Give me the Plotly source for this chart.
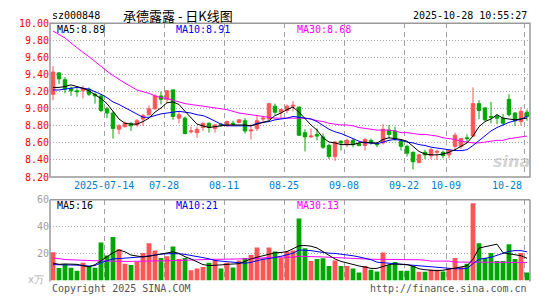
import plotly.graph_objects as go

# ---------------- data ----------------
jul = [1, 2, 3, 4, 7, 8, 9, 10, 11, 14, 15, 16, 17, 18, 21, 22, 23, 24, 25, 28, 29, 30, 31]
aug = [1, 4, 5, 6, 7, 8, 11, 12, 13, 14, 15, 18, 19, 20, 21, 22, 25, 26, 27, 28, 29]
sep = [1, 2, 3, 4, 5, 8, 9, 10, 11, 12, 15, 16, 17, 18, 19, 22, 23, 24, 25, 26, 29, 30]
octo = [9, 10, 13, 14, 15, 16, 17, 20, 21, 22, 23, 24, 27, 28]
dates = ([f"2025-07-{d:02d}" for d in jul] + [f"2025-08-{d:02d}" for d in aug] +
         [f"2025-09-{d:02d}" for d in sep] + [f"2025-10-{d:02d}" for d in octo])

open_ = [9.17, 9.42, 9.34, 9.24, 9.21, 9.21, 9.23, 9.17, 9.15, 9.00,
         8.95, 8.76, 8.79, 8.83, 8.81, 8.88, 8.93, 9.00, 9.15, 9.11,
         9.22, 8.89, 8.89, 8.73, 8.72, 8.78, 8.83, 8.77, 8.82, 8.81,
         8.83, 8.84, 8.86, 8.74, 8.77, 8.88, 8.88, 9.03, 8.96, 8.98,
         9.03, 9.02, 8.72, 8.67, 8.70, 8.67, 8.57, 8.44, 8.62, 8.58,
         8.63, 8.59, 8.57, 8.63, 8.59, 8.60, 8.75, 8.74, 8.62, 8.56,
         8.49, 8.37, 8.49, 8.45, 8.49, 8.49, 8.46, 8.56, 8.56, 8.66,
         8.68, 9.06, 9.01, 8.91, 8.91, 8.89, 9.11, 8.95, 8.85, 8.96]
high = [9.50, 9.43, 9.37, 9.26, 9.24, 9.27, 9.25, 9.19, 9.17, 9.02,
        8.97, 8.82, 8.85, 8.84, 8.88, 8.94, 9.04, 9.17, 9.20, 9.22,
        9.23, 8.97, 8.91, 8.79, 8.79, 8.84, 8.84, 8.82, 8.83, 8.86,
        8.86, 8.88, 8.89, 8.82, 8.93, 8.91, 9.07, 9.06, 9.00, 9.05,
        9.09, 9.02, 8.76, 8.77, 8.77, 8.71, 8.59, 8.62, 8.63, 8.65,
        8.65, 8.61, 8.66, 8.65, 8.61, 8.82, 8.81, 8.79, 8.64, 8.58,
        8.50, 8.47, 8.52, 8.54, 8.52, 8.51, 8.52, 8.72, 8.66, 8.70,
        9.25, 9.10, 9.02, 9.08, 8.94, 8.94, 9.17, 8.96, 9.02, 8.99]
low = [9.10, 9.29, 9.18, 9.15, 9.14, 9.12, 9.15, 9.06, 8.96, 8.89,
       8.65, 8.70, 8.78, 8.74, 8.79, 8.80, 8.92, 8.99, 9.05, 9.07,
       8.87, 8.83, 8.70, 8.71, 8.66, 8.74, 8.72, 8.72, 8.79, 8.79,
       8.80, 8.83, 8.71, 8.64, 8.74, 8.83, 8.87, 8.93, 8.89, 8.95,
       8.97, 8.68, 8.50, 8.66, 8.63, 8.53, 8.41, 8.39, 8.51, 8.55,
       8.55, 8.56, 8.51, 8.58, 8.55, 8.58, 8.65, 8.62, 8.51, 8.44,
       8.29, 8.36, 8.41, 8.41, 8.40, 8.42, 8.42, 8.52, 8.53, 8.60,
       8.67, 8.88, 8.86, 8.83, 8.82, 8.80, 8.91, 8.80, 8.80, 8.86]
close = [9.43, 9.35, 9.23, 9.21, 9.20, 9.24, 9.17, 9.15, 8.98, 8.95,
         8.77, 8.80, 8.83, 8.80, 8.86, 8.92, 9.00, 9.15, 9.11, 9.21,
         8.91, 8.93, 8.71, 8.74, 8.76, 8.83, 8.78, 8.81, 8.81, 8.85,
         8.82, 8.87, 8.74, 8.75, 8.86, 8.89, 9.06, 8.96, 8.99, 9.03,
         9.04, 8.69, 8.67, 8.68, 8.68, 8.55, 8.44, 8.61, 8.60, 8.63,
         8.58, 8.57, 8.64, 8.60, 8.58, 8.76, 8.70, 8.65, 8.56, 8.48,
         8.38, 8.46, 8.46, 8.52, 8.50, 8.45, 8.51, 8.69, 8.65, 8.65,
         9.06, 8.98, 8.87, 8.90, 8.89, 8.83, 8.93, 8.86, 8.97, 8.91]

ma5 = [9.25, 9.25, 9.26, 9.28, 9.26, 9.24, 9.21, 9.17, 9.12, 9.06,
       8.97, 8.88, 8.83, 8.82, 8.82, 8.85, 8.89, 8.96, 9.01, 9.07,
       9.08, 9.05, 8.97, 8.89, 8.82, 8.80, 8.78, 8.79, 8.80, 8.81,
       8.81, 8.81, 8.81, 8.80, 8.82, 8.84, 8.86, 8.92, 8.95, 8.99,
       9.02, 8.96, 8.88, 8.81, 8.75, 8.66, 8.61, 8.60, 8.58, 8.58,
       8.58, 8.60, 8.61, 8.60, 8.60, 8.64, 8.66, 8.65, 8.64, 8.62,
       8.56, 8.50, 8.47, 8.46, 8.46, 8.47, 8.49, 8.52, 8.56, 8.60,
       8.68, 8.79, 8.85, 8.88, 8.93, 8.89, 8.88, 8.87, 8.88, 8.89]
ma10 = [9.22, 9.22, 9.23, 9.24, 9.25, 9.24, 9.23, 9.20, 9.17, 9.13,
        9.08, 9.05, 9.01, 8.97, 8.93, 8.90, 8.90, 8.92, 8.94, 8.95,
        8.96, 8.97, 8.96, 8.95, 8.93, 8.92, 8.89, 8.85, 8.82, 8.80,
        8.80, 8.80, 8.80, 8.80, 8.83, 8.84, 8.85, 8.87, 8.88, 8.89,
        8.91, 8.90, 8.89, 8.88, 8.85, 8.80, 8.76, 8.73, 8.71, 8.68,
        8.65, 8.62, 8.60, 8.60, 8.59, 8.61, 8.63, 8.64, 8.63, 8.61,
        8.60, 8.58, 8.57, 8.55, 8.54, 8.53, 8.52, 8.51, 8.51, 8.52,
        8.57, 8.63, 8.69, 8.74, 8.78, 8.81, 8.84, 8.86, 8.88, 8.91]
ma30 = [9.91, 9.87, 9.83, 9.77, 9.71, 9.66, 9.61, 9.55, 9.49, 9.44,
        9.39, 9.34, 9.30, 9.26, 9.22, 9.20, 9.18, 9.15, 9.13, 9.12,
        9.10, 9.08, 9.06, 9.05, 9.04, 9.03, 9.02, 9.01, 9.00, 8.99,
        8.97, 8.95, 8.94, 8.93, 8.92, 8.91, 8.90, 8.89, 8.89, 8.89,
        8.89, 8.89, 8.89, 8.88, 8.86, 8.85, 8.83, 8.82, 8.81, 8.81,
        8.80, 8.78, 8.77, 8.76, 8.75, 8.75, 8.75, 8.74, 8.72, 8.72,
        8.71, 8.70, 8.70, 8.69, 8.68, 8.66, 8.65, 8.64, 8.62, 8.61,
        8.60, 8.60, 8.61, 8.62, 8.63, 8.63, 8.65, 8.66, 8.67, 8.68]

volume = [21, 9.3, 12, 9.5, 7.2, 13.2, 11, 9.5, 28.3, 18.5,
          32.4, 23.3, 12.5, 11.5, 13.9, 20.4, 27.6, 22.3, 16.8, 18,
          25.2, 16, 16.8, 7.7, 8.9, 10.1, 13.2, 15.1, 8.9, 13.2,
          9.6, 14.9, 16.8, 18.9, 24.5, 16.3, 24.5, 21.6, 16.8, 21.6,
          22.3, 46, 24, 14.4, 16, 16.5, 10.8, 14.9, 10.8, 10.8,
          8.9, 6, 10.8, 8, 6.7, 20.9, 11.5, 13.7, 7.2, 7.2,
          10.8, 6.5, 6.5, 7.9, 7.9, 6.7, 8.9, 16.8, 10.1, 12.5,
          57.5, 27.6, 16.8, 20.4, 14.4, 14.4, 26.9, 16, 20.4, 6]
vma5 = [13, 12, 12.3, 12.3, 12, 10.9, 10.2, 11.8, 14.7, 17.5,
        20.6, 22.7, 21.3, 18.9, 18, 17.5, 18, 18.9, 19.9, 20.6,
        21.3, 20.1, 17.7, 16, 13.8, 11.8, 11.1, 11.1, 11.6, 12,
        12.3, 12.5, 14.2, 16.1, 17.3, 18.4, 19.6, 20.6, 20.8, 21.5,
        23.6, 25.8, 26, 25.5, 24.2, 21.5, 18.5, 16, 14.2, 13,
        11.8, 10.8, 10, 9, 9, 10.6, 11.8, 12.3, 12.3, 11.8,
        10.6, 8.7, 8, 7.6, 7.3, 7.6, 8.5, 9.5, 9.9, 10.9,
        15.8, 24.1, 25.1, 26, 27, 20.6, 19.9, 19.1, 18.4, 16.5]
vma10 = [11.8, 11.8, 11.8, 11.8, 11.6, 11.3, 10.6, 11.1, 13.2, 14.9,
         16.1, 16.3, 16.5, 16.8, 17.3, 17.7, 18.4, 19.1, 19.6, 19.9,
         20.1, 19.9, 19.4, 18.7, 18.2, 17, 16.1, 14.9, 14.4, 13.9,
         13.5, 13, 12.8, 13.5, 14.7, 15.8, 16.3, 17, 18, 19.1,
         20.3, 22.7, 22.7, 22.2, 21.5, 20.8, 20.3, 20.1, 19.6, 19.1,
         18.4, 17.5, 16.5, 15.5, 13.6, 13.2, 12.8, 12.5, 12, 11.5,
         11, 10.6, 10.2, 9.9, 9.5, 9.2, 8.9, 8.7, 8.7, 8.9,
         12.5, 15.8, 16.5, 17.3, 18.7, 20.3, 21.7, 22.2, 22.2, 21.3]
vma30 = [16.8, 16.1, 15.6, 15.4, 15.4, 15.4, 14.9, 14.7, 14.5, 14.4,
         14.3, 14.2, 14.2, 14.2, 14.2, 14.2, 14.3, 14.4, 14.5, 14.7,
         14.8, 15, 15.2, 15.4, 15.6, 15.8, 15.8, 15.8, 15.8, 15.8,
         15.8, 15.8, 15.8, 15.8, 16.3, 16.8, 17.3, 17.3, 17.3, 17.3,
         17.3, 18, 18, 18, 18, 17.5, 17.3, 17, 16.8, 16.5,
         16.3, 16.1, 16, 15.8, 15.8, 15.8, 15.8, 15.8, 15.8, 15.8,
         15.8, 15.4, 15.1, 14.4, 14.4, 14.4, 14.4, 13.7, 13.7, 13.7,
         13.5, 13.5, 13.5, 13.5, 13.5, 13.5, 13.5, 13.5, 13.5, 13.4]

tick_dates = ["2025-07-14", "2025-07-28", "2025-08-11", "2025-08-25",
              "2025-09-08", "2025-09-22", "2025-10-09", "2025-10-28"]
tick_text = ["2025-07-14", "07-28", "08-11", "08-25", "09-08", "09-22", "10-09", "10-28"]
price_ticks = [8.2, 8.4, 8.6, 8.8, 9.0, 9.2, 9.4, 9.6, 9.8, 10.0]
vol_ticks = [20, 40, 60]
vol_tick_text = ["20", "40", "60"]

# ---------------- styling ----------------
W, H = 545, 300
RED, GREEN = "#FF5555", "#00A600"
MONO = "DejaVu Sans Mono"
X0, X1 = 50, 530            # plot left/right (px)
P_TOP, P_BOT = 19, 178      # price panel
V_TOP, V_BOT = 201.5, 285   # volume panel


def px(xp):
    return xp / W


def py(yp):
    return (H - yp) / H


x = list(range(len(dates)))
grid_x = [dates.index(d) - 0.5 for d in tick_dates]
bar_colors = [RED if c > o else GREEN for o, c in zip(open_, close)]

fig = go.Figure()
fig.add_trace(go.Candlestick(
    x=x, open=open_, high=high, low=low, close=close,
    increasing=dict(line=dict(color=RED, width=1), fillcolor=RED),
    decreasing=dict(line=dict(color=GREEN, width=1), fillcolor=GREEN),
    whiskerwidth=0, hoverinfo="skip", xaxis="x", yaxis="y"))
for ys, col in [(ma30, "#FF00FF"), (ma10, "#0000FF"), (ma5, "#000000")]:
    fig.add_trace(go.Scatter(x=x, y=ys, mode="lines", line=dict(color=col, width=1),
                             hoverinfo="skip", xaxis="x", yaxis="y"))

fig.add_trace(go.Bar(x=x, y=volume, marker=dict(color=bar_colors, line=dict(width=0)),
                     width=0.8, hoverinfo="skip", xaxis="x2", yaxis="y2"))
for ys, col in [(vma30, "#FF00FF"), (vma10, "#0000FF"), (vma5, "#000000")]:
    fig.add_trace(go.Scatter(x=x, y=ys, mode="lines", line=dict(color=col, width=1),
                             hoverinfo="skip", xaxis="x2", yaxis="y2"))

xcommon = dict(range=[-0.5, len(dates) - 0.5], domain=[px(X0), px(X1)],
               tickvals=grid_x, showticklabels=False, ticks="",
               showgrid=True, gridcolor="#A0A0A0", griddash="5px,4px", gridwidth=1,
               zeroline=False, showline=False, fixedrange=True)

fig.update_layout(
    width=W, height=H, margin=dict(l=0, r=0, t=0, b=0),
    paper_bgcolor="white", plot_bgcolor="white", showlegend=False,
    boxgap=0.18,
    xaxis=dict(**xcommon, anchor="y", rangeslider=dict(visible=False)),
    xaxis2=dict(**xcommon, anchor="y2"),
    yaxis=dict(domain=[py(P_BOT), py(P_TOP)], range=[8.2, 10.0],
               tickvals=price_ticks, tickformat=".2f", ticks="",
               tickfont=dict(family=MONO, size=10, color="#FF0000"),
               showgrid=True, gridcolor="#A8A8A8", griddash="1px,2px",
               zeroline=False, showline=False, fixedrange=True),
    yaxis2=dict(domain=[py(V_BOT), py(V_TOP)], range=[0, 60],
                tickvals=vol_ticks, ticktext=vol_tick_text, ticks="",
                tickfont=dict(family=MONO, size=10, color="#A0A0A0"),
                showgrid=True, gridcolor="#A8A8A8", griddash="1px,2px",
                zeroline=False, showline=False, fixedrange=True),
)

# borders
bc = "#999999"
shapes = [
    dict(type="rect", xref="paper", yref="paper", x0=px(X0), x1=px(X1),
         y0=py(P_BOT), y1=py(P_TOP), line=dict(color=bc, width=1.5)),
    dict(type="line", xref="paper", yref="paper", x0=px(X0), x1=px(X0),
         y0=py(V_BOT + 1), y1=py(V_TOP), line=dict(color=bc, width=1.5)),
    dict(type="line", xref="paper", yref="paper", x0=px(X0), x1=px(X1),
         y0=py(V_TOP), y1=py(V_TOP), line=dict(color=bc, width=1.5)),
    dict(type="line", xref="paper", yref="paper", x0=px(X1), x1=px(X1),
         y0=py(V_BOT + 1), y1=py(V_TOP), line=dict(color=bc, width=1.5)),
]
fig.update_layout(shapes=shapes)

ann = []


def text(xp, yp, s, color="#000000", size=10, anchor="left", family=MONO, **kw):
    ann.append(dict(x=px(xp), y=py(yp), xref="paper", yref="paper", text=s,
                    showarrow=False, xanchor=anchor, yanchor="middle",
                    font=dict(family=family, size=size, color=color), **kw))


# header
text(50, 11, "sz000848")
text(178, 11, "承德露露 - 日K线图", size=13, anchor="center",
     family="Noto Sans CJK SC")
text(529, 11, "2025-10-28 10:55:27", anchor="right")
# price legend
text(55, 25, f"MA5:{ma5[-1]:.2f}")
text(174, 25, f"MA10:{ma10[-1]:.2f}", color="#0000FF")
text(295, 25, f"MA30:{ma30[-1]:.2f}", color="#FF00FF")
# volume legend
text(55, 207, f"MA5:{vma5[-1]:.0f}")
text(174, 207, f"MA10:{vma10[-1]:.0f}", color="#0000FF")
text(295, 207, f"MA30:{vma30[-1]:.0f}", color="#FF00FF")
# date labels
for gx, t in zip(grid_x, tick_text):
    last = t == tick_text[-1]
    ann.append(dict(x=gx, y=py(187), xref="x", yref="paper", text=t, showarrow=False,
                    xanchor="right" if last else "center", yanchor="middle",
                    font=dict(family=MONO, size=10, color="#0080C8")))
# unit + footer
text(46, 284, "x万", color="#B0B0B0", size=10, anchor="right")
text(50, 293, "Copyright 2025 SINA.COM", color="#555555")
text(529, 293, "http://finance.sina.com.cn", color="#555555", anchor="right")
# watermark
text(511, 162, "<b><i>sina</i></b>", color="rgba(175,175,175,0.55)", size=16,
     anchor="center", family="DejaVu Sans")
fig.update_layout(annotations=ann)

fig.write_html("out.html")
